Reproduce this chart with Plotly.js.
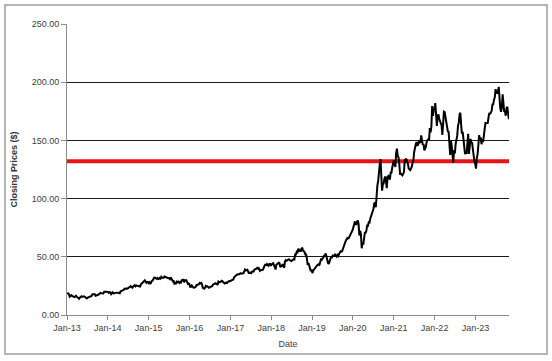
<!DOCTYPE html>
<html>
<head>
<meta charset="utf-8">
<script src="https://cdn.plot.ly/plotly-3.0.1.min.js"></script>
<style>html,body{margin:0;padding:0;background:#fff;}#chart{width:552px;height:361px;}</style>
</head>
<body>
<div id="chart"></div>
<script>
// Weekly closing prices (Friday closes, USD)
const firstWeek = '2013-01-04';
const p2013 = [19.2,18.6,17.9,15.7,16.2,17.0,16.4,16.1,15.4,15.4,15.8,16.5,15.8,15.1,15.3,13.9,14.9,16.0,16.1,15.5,15.9,16.0,15.8,15.4,14.8,14.2,14.9,15.2,15.6,15.8,16.5,16.3,17.9,17.9,17.4,17.8,16.6,16.7,17.2,17.3,17.6,18.2,18.9,18.6,18.6,18.7,18.5,19.9,20.0,19.8,19.6,20.0];
const p2014 = [19.5,19.0,19.7,19.5,17.9,18.6,19.5,18.5,18.8,18.9,18.7,19.2,19.2,19.0,18.6,18.7,20.3,21.1,20.9,21.3,21.5,22.6,23.1,22.8,22.5,22.8,23.7,23.7,24.2,24.8,24.1,23.5,24.4,25.5,25.6,24.6,25.4,25.2,25.1,24.9,25.2,24.5,26.3,27.0,27.2,28.5,29.3,29.7,28.7,27.6,28.3,28.3];
const p2015 = [27.3,28.1,26.5,28.3,29.3,29.7,31.8,32.2,32.1,31.6,31.1,31.7,30.8,31.0,31.8,31.2,32.8,32.1,31.8,32.1,33.0,32.6,32.1,31.8,31.8,31.6,31.6,30.8,32.4,31.0,30.3,28.8,29.0,26.3,28.3,27.5,28.7,28.2,28.7,27.6,28.3,27.8,29.8,29.9,30.3,28.1,29.8,29.6,29.8,28.3,26.7,27.0];
const p2016 = [26.3,24.2,24.3,25.4,24.3,23.6,23.5,24.1,24.2,25.8,25.6,26.3,26.4,27.5,27.0,27.5,26.5,23.4,23.0,22.6,23.7,25.1,24.5,24.6,23.9,23.4,23.9,24.2,24.7,24.7,26.1,26.5,27.1,27.3,26.7,26.9,25.8,28.7,28.2,28.3,28.5,29.4,29.2,28.3,27.2,27.0,27.4,27.9,27.5,28.5,28.9,29.2,29.0];
const p2017 = [29.5,29.8,30.0,30.5,32.3,33.0,33.9,34.2,34.9,34.8,34.9,35.2,35.9,35.8,35.3,35.6,35.9,37.2,39.0,38.3,38.4,38.9,37.2,35.6,36.6,36.0,36.0,37.3,37.6,37.4,39.1,39.4,39.4,39.9,41.0,39.7,39.9,37.9,38.5,38.9,39.2,39.0,40.8,43.1,43.7,42.4,43.7,42.8,42.3,43.8,43.8,42.3];
const p2018 = [43.8,44.3,44.6,43.0,40.1,39.1,43.1,43.9,44.1,44.9,44.5,41.2,41.9,42.0,43.7,41.4,40.6,46.1,47.1,46.6,47.1,47.6,47.9,47.2,46.2,46.3,46.9,47.9,47.9,47.7,51.9,51.9,54.4,54.0,57.0,55.3,55.9,54.4,56.4,58.0,55.5,54.8,54.1,51.9,51.9,48.4,43.1,44.6,42.1,41.4,37.7,39.1];
const p2019 = [36.0,38.1,39.2,39.4,41.6,42.6,42.6,43.2,43.7,43.2,46.5,47.8,47.5,49.3,49.7,51.0,51.1,52.9,49.3,47.3,44.7,43.8,47.5,48.2,49.7,49.5,51.1,50.8,50.7,51.9,51.0,50.2,51.6,50.7,52.2,53.3,54.7,54.4,54.7,56.8,59.1,59.1,61.6,64.4,65.0,66.6,65.4,66.8,67.7,68.8,69.9,72.4];
const p2020 = [74.4,77.6,79.7,79.6,77.4,80.0,81.2,78.3,68.3,72.3,69.5,57.3,61.9,60.4,67.0,70.7,70.7,72.3,77.5,76.9,79.7,79.5,82.9,84.7,87.4,88.4,91.0,95.9,96.3,92.6,106.3,111.1,114.9,124.4,129.0,134.0,112.0,106.8,112.3,113.0,117.0,119.0,115.0,108.9,118.7,119.3,117.3,116.6,122.3,122.4,126.7,132.0];
const p2021 = [132.7,130.0,127.1,139.1,143.0,136.8,135.4,129.9,121.3,121.4,121.0,120.0,121.2,123.0,133.0,134.2,134.3,131.5,130.2,125.9,125.4,124.6,125.9,127.4,130.5,133.1,140.0,145.1,146.4,148.6,145.9,146.1,149.1,148.2,148.6,154.3,149.0,146.1,146.9,141.5,142.9,144.8,148.7,149.8,151.3,150.0,160.6,156.8,161.8,179.5,171.1,176.3,177.6];
const p2022 = [182.0,173.1,162.4,170.3,172.4,168.6,167.3,164.9,163.2,154.7,164.0,174.7,174.3,170.1,165.3,161.8,157.7,157.3,147.1,137.6,149.6,145.4,137.1,131.0,141.7,138.9,147.0,150.2,154.1,162.5,165.4,172.1,173.8,163.6,155.8,157.4,150.7,150.4,138.2,140.1,138.4,147.3,155.7,138.4,149.7,151.3,148.1,147.8,142.2,134.5,131.9,129.9];
const p2023 = [125.7,134.8,137.9,145.9,154.5,151.0,152.6,146.7,151.0,148.5,155.0,160.3,164.9,164.7,165.2,165.0,169.7,173.6,172.6,175.2,175.4,180.9,181.0,184.9,187.0,194.0,190.7,190.7,191.9,196.0,182.0,177.8,174.5,178.6,189.5,178.2,175.0,174.8,171.2,177.5,178.9,172.9,168.2];

const refLevel = 132;           // red horizontal reference line
const yTicks = [0, 50, 100, 150, 200, 250];
const xRange = ['2013-01-01', '2023-10-28'];
const yTitle = 'Closing Prices ($)';
const xTitle = 'Date';

const prices = [].concat(p2013, p2014, p2015, p2016, p2017, p2018, p2019, p2020, p2021, p2022, p2023);
const dates = prices.map((_, i) => {
  const d = new Date(firstWeek + 'T00:00:00Z');
  d.setUTCDate(d.getUTCDate() + 7 * i);
  return d.toISOString().slice(0, 10);
});

const font = {family: 'Liberation Sans, Arial, sans-serif', size: 9, color: '#404040'};

const traces = [
  {x: xRange, y: [refLevel, refLevel], type: 'scatter', mode: 'lines',
   line: {color: '#e8141b', width: 4}, hoverinfo: 'skip', showlegend: false},
  {x: dates, y: prices, type: 'scatter', mode: 'lines',
   line: {color: '#000000', width: 2}, showlegend: false}
];

const layout = {
  width: 552, height: 361,
  margin: {l: 67, r: 43, t: 24, b: 46},
  paper_bgcolor: '#ffffff', plot_bgcolor: '#ffffff',
  font: font,
  showlegend: false,
  xaxis: {
    type: 'date', range: xRange,
    tickformat: '%b-%y', dtick: 'M12', tick0: '2013-01-01',
    ticks: 'outside', ticklen: 4, tickcolor: '#8c8c8c',
    showline: true, linecolor: '#8c8c8c', linewidth: 1,
    showgrid: false, zeroline: false,
    tickfont: font,
    title: {text: xTitle, font: font, standoff: 8}
  },
  yaxis: {
    range: [0, 250], tickvals: yTicks, tickformat: '.2f',
    ticks: 'outside', ticklen: 5, tickcolor: '#8c8c8c',
    showline: true, linecolor: '#8c8c8c', linewidth: 1,
    showgrid: true, gridcolor: '#1a1a1a', gridwidth: 1,
    zeroline: false,
    tickfont: font,
    title: {text: yTitle, font: {family: font.family, size: 9, color: '#333333', weight: 'bold'}, standoff: 12}
  },
  shapes: [{
    type: 'rect', xref: 'paper', yref: 'paper',
    x0: -0.1403, x1: 1.0860, y0: -0.134, y1: 1.0653,
    line: {color: '#b5b5b5', width: 2}, fillcolor: 'rgba(0,0,0,0)', layer: 'below'
  }]
};

Plotly.newPlot('chart', traces, layout, {staticPlot: true, displayModeBar: false});
</script>
</body>
</html>
